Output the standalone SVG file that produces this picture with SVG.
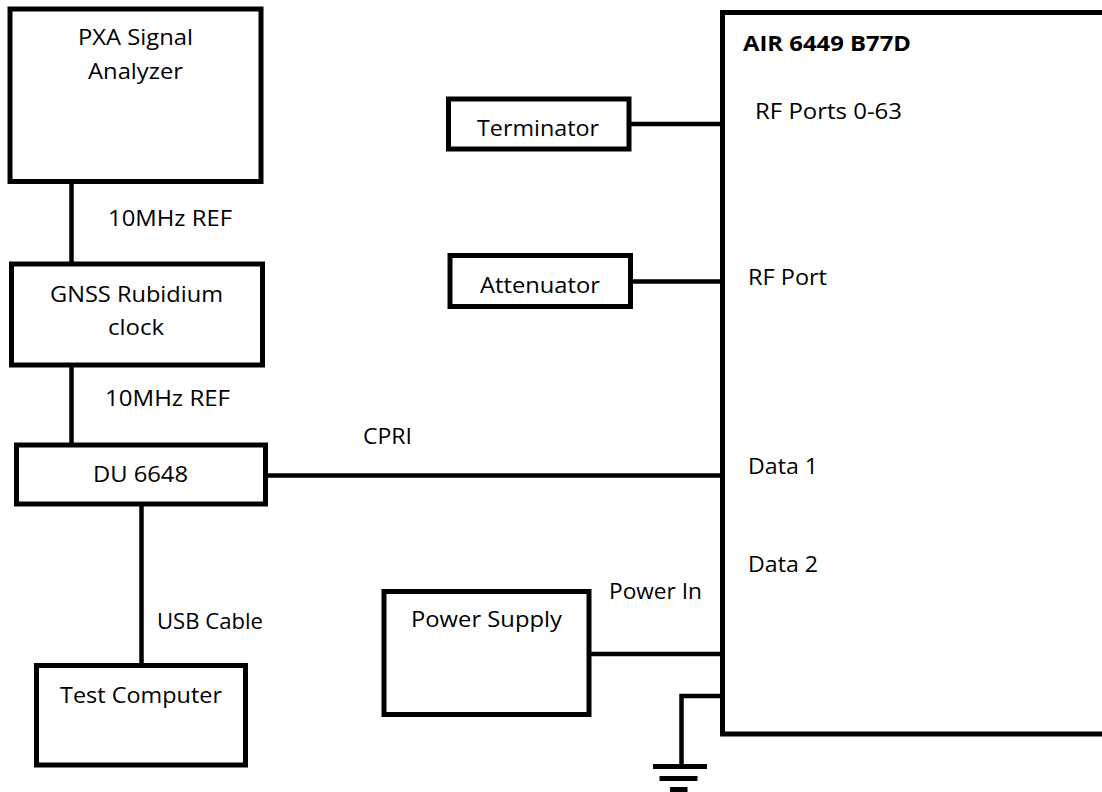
<svg xmlns="http://www.w3.org/2000/svg" width="1102" height="792" viewBox="0 0 1102 792">
<style>
.box{fill:#fff;stroke:#000;stroke-width:5}
.ln{stroke:#000;stroke-width:4.5;fill:none}
.t{font-family:"Open Sans","Liberation Sans",sans-serif;font-size:21px;fill:#000}
.b{font-weight:bold}
.m{text-anchor:middle}
</style>
<rect width="1102" height="792" fill="#fff"/>
<g id="connectors">
<line class="ln" x1="71.5" y1="183" x2="71.5" y2="263"/>
<line class="ln" x1="71.5" y1="367" x2="71.5" y2="444"/>
<line class="ln" x1="267" y1="475.5" x2="721" y2="475.5"/>
<line class="ln" x1="141.5" y1="505" x2="141.5" y2="664"/>
<line class="ln" x1="631" y1="124" x2="721" y2="124"/>
<line class="ln" x1="632" y1="281.5" x2="721" y2="281.5"/>
<line class="ln" x1="591" y1="654" x2="721" y2="654"/>
<polyline class="ln" points="721,696 681.5,696 681.5,766"/>
<rect x="653" y="764" width="54" height="5"/>
<rect x="659.5" y="776" width="38" height="5"/>
<rect x="670" y="787" width="17.5" height="5"/>
</g>
<g id="air">
<path class="box" d="M1110,12.5 H722.5 V734 H1110"/>
<text class="t b" x="743" y="51" textLength="168" lengthAdjust="spacingAndGlyphs">AIR 6449 B77D</text>
<text class="t" x="755" y="119" textLength="147" lengthAdjust="spacingAndGlyphs">RF Ports 0-63</text>
<text class="t" x="748" y="285" textLength="79" lengthAdjust="spacingAndGlyphs">RF Port</text>
<text class="t" x="748" y="474" textLength="70" lengthAdjust="spacingAndGlyphs">Data 1</text>
<text class="t" x="748" y="572" textLength="70" lengthAdjust="spacingAndGlyphs">Data 2</text>
</g>
<g id="pxa">
<rect class="box" x="10" y="9" width="251" height="172.5"/>
<text class="t m" x="135.5" y="45" textLength="115" lengthAdjust="spacingAndGlyphs">PXA Signal</text>
<text class="t m" x="135.5" y="79" textLength="95" lengthAdjust="spacingAndGlyphs">Analyzer</text>
</g>
<g id="gnss">
<rect class="box" x="11.5" y="264" width="251" height="101"/>
<text class="t m" x="136.5" y="302" textLength="173" lengthAdjust="spacingAndGlyphs">GNSS Rubidium</text>
<text class="t m" x="136" y="335" textLength="56" lengthAdjust="spacingAndGlyphs">clock</text>
</g>
<g id="du">
<rect class="box" x="16.5" y="445" width="249" height="59"/>
<text class="t m" x="140.5" y="482" textLength="95" lengthAdjust="spacingAndGlyphs">DU 6648</text>
</g>
<g id="testpc">
<rect class="box" x="36.5" y="665.5" width="209" height="99.5"/>
<text class="t m" x="141" y="703" textLength="162" lengthAdjust="spacingAndGlyphs">Test Computer</text>
</g>
<g id="terminator">
<rect class="box" x="448.5" y="99" width="180.5" height="50"/>
<text class="t m" x="538" y="136" textLength="122" lengthAdjust="spacingAndGlyphs">Terminator</text>
</g>
<g id="attenuator">
<rect class="box" x="450" y="255.5" width="180.5" height="51"/>
<text class="t m" x="540" y="293" textLength="120" lengthAdjust="spacingAndGlyphs">Attenuator</text>
</g>
<g id="power">
<rect class="box" x="384" y="591.5" width="205" height="123"/>
<text class="t m" x="486.5" y="627" textLength="151" lengthAdjust="spacingAndGlyphs">Power Supply</text>
</g>
<g id="labels">
<text class="t" x="108" y="226" textLength="124" lengthAdjust="spacingAndGlyphs">10MHz REF</text>
<text class="t" x="105" y="406" textLength="125" lengthAdjust="spacingAndGlyphs">10MHz REF</text>
<text class="t" x="363" y="444" textLength="49" lengthAdjust="spacingAndGlyphs">CPRI</text>
<text class="t" x="157" y="629" textLength="106" lengthAdjust="spacingAndGlyphs">USB Cable</text>
<text class="t" x="609" y="599" textLength="93" lengthAdjust="spacingAndGlyphs">Power In</text>
</g>
</svg>
